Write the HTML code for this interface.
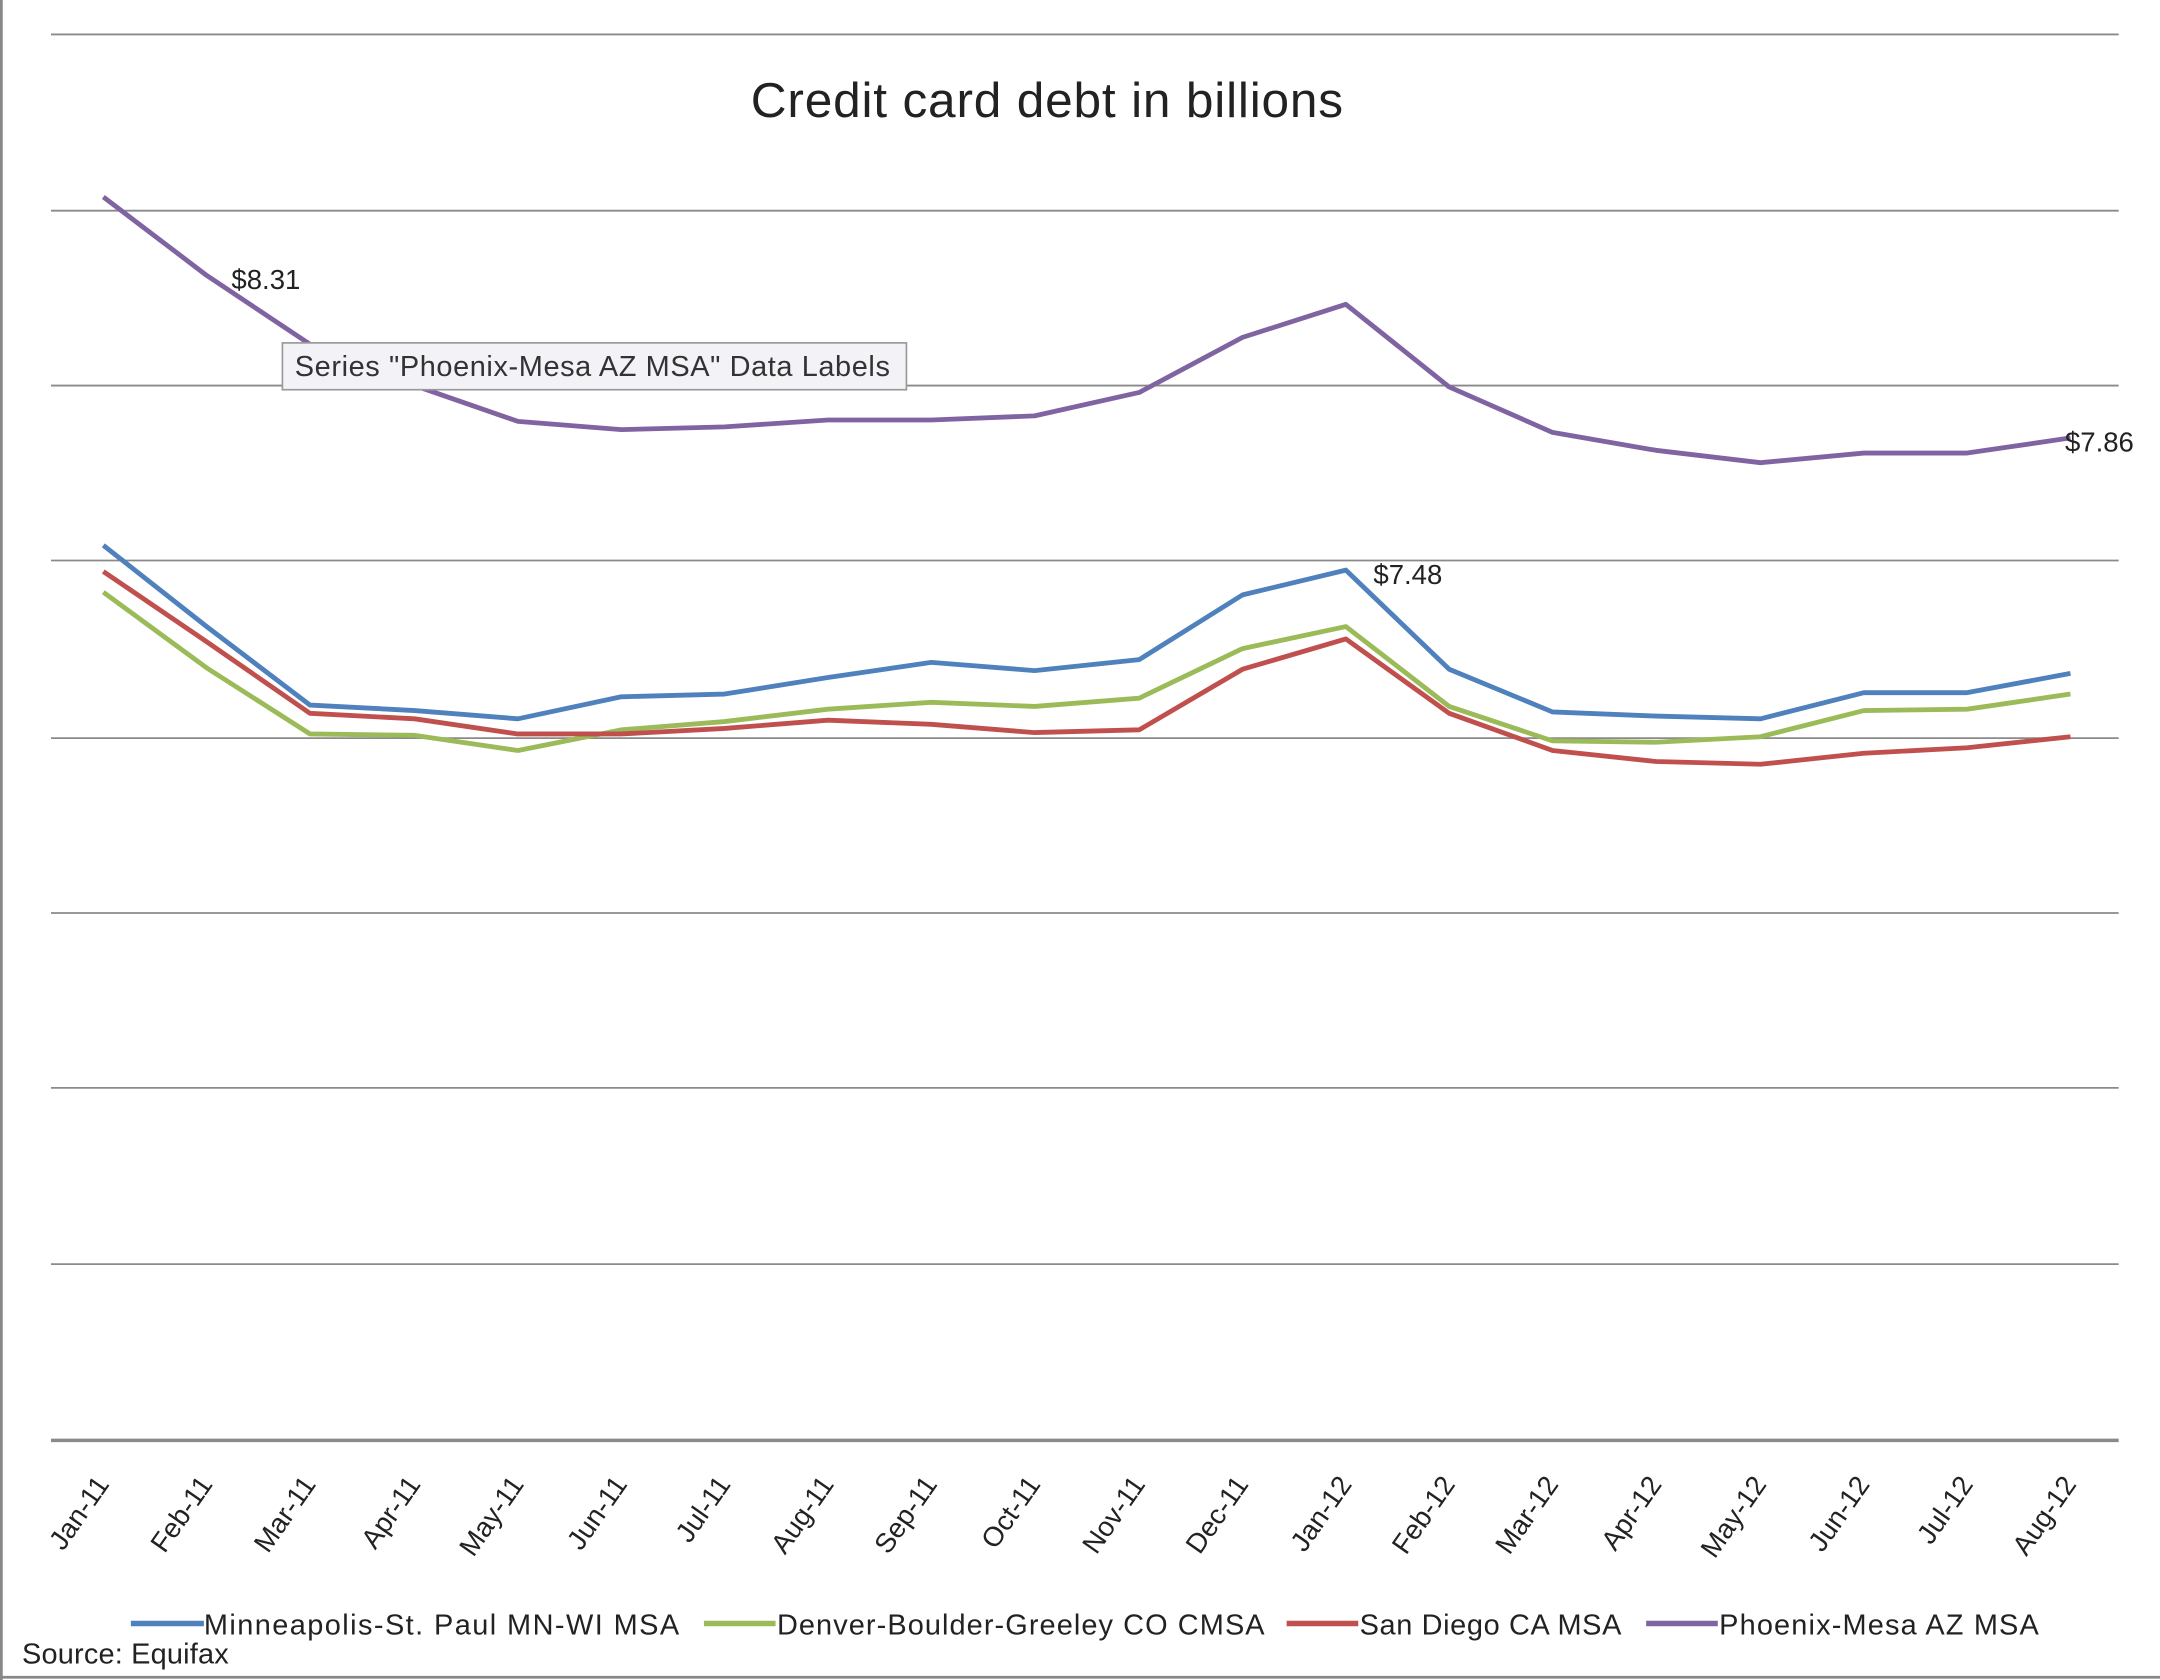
<!DOCTYPE html>
<html><head><meta charset="utf-8"><style>html,body{margin:0;padding:0;background:#fff}svg{display:block}</style></head>
<body>
<svg width="2160" height="1680" viewBox="0 0 1568 1220" preserveAspectRatio="none" xmlns="http://www.w3.org/2000/svg" font-family="Liberation Sans Narrow, Liberation Sans, sans-serif">
<rect width="1568" height="1220" fill="#fff"/>
<line x1="1" y1="0" x2="1" y2="1220" stroke="#888" stroke-width="2"/>
<line x1="0" y1="1218" x2="1568" y2="1218" stroke="#888" stroke-width="2"/>
<g stroke="#8a8a8a" stroke-width="1.3">
<line x1="37" y1="25" x2="1538" y2="25"/><line x1="37" y1="153" x2="1538" y2="153"/>
<line x1="37" y1="280" x2="1538" y2="280"/><line x1="37" y1="407" x2="1538" y2="407"/>
<line x1="37" y1="536" x2="1538" y2="536"/><line x1="37" y1="663" x2="1538" y2="663"/>
<line x1="37" y1="790" x2="1538" y2="790"/><line x1="37" y1="918" x2="1538" y2="918"/>
<line x1="37" y1="1046" x2="1538" y2="1046" stroke-width="2.5"/>
</g>
<text x="760" y="85" font-size="36" text-anchor="middle" fill="#222" textLength="430">Credit card debt in billions</text>
<g fill="none" stroke-width="3.5" stroke-linejoin="round">
<polyline stroke="#8064a2" points="75,143 150,200 225,250 301,280 376,306 451,312 526,310 601,305 676,305 751,302 827,285 902,245 977,221 1052,281 1127,314 1202,327 1278,336 1353,329 1428,329 1503,318"/>
<polyline stroke="#9bbb59" points="75,430 150,485 225,533 301,534 376,545 451,530 526,524 601,515 676,510 751,513 827,507 902,471 977,455 1052,513 1127,538 1202,539 1278,535 1353,516 1428,515 1503,504"/>
<polyline stroke="#c0504d" points="75,415 150,466 225,518 301,522 376,533 451,533 526,529 601,523 676,526 751,532 827,530 902,486 977,464 1052,518 1127,545 1202,553 1278,555 1353,547 1428,543 1503,535"/>
<polyline stroke="#4f81bd" points="75,396 150,455 225,512 301,516 376,522 451,506 526,504 601,492 676,481 751,487 827,479 902,432 977,414 1052,486 1127,517 1202,520 1278,522 1353,503 1428,503 1503,489"/>
</g>
<g font-size="20" fill="#222">
<text x="168" y="210">$8.31</text>
<text x="997" y="424">$7.48</text>
<text x="1499" y="328">$7.86</text>
</g>
<rect x="205" y="249" width="453" height="34" fill="#f3f3f7" stroke="#999" stroke-width="1.2"/>
<text x="214" y="273" font-size="21" fill="#333" textLength="432">Series "Phoenix-Mesa AZ MSA" Data Labels</text>
<g font-size="20" fill="#222" text-anchor="end">
<text transform="translate(80,1078) rotate(-55)">Jan-11</text>
<text transform="translate(155,1078) rotate(-55)">Feb-11</text>
<text transform="translate(230,1078) rotate(-55)">Mar-11</text>
<text transform="translate(306,1078) rotate(-55)">Apr-11</text>
<text transform="translate(381,1078) rotate(-55)">May-11</text>
<text transform="translate(456,1078) rotate(-55)">Jun-11</text>
<text transform="translate(531,1078) rotate(-55)">Jul-11</text>
<text transform="translate(606,1078) rotate(-55)">Aug-11</text>
<text transform="translate(681,1078) rotate(-55)">Sep-11</text>
<text transform="translate(756,1078) rotate(-55)">Oct-11</text>
<text transform="translate(832,1078) rotate(-55)">Nov-11</text>
<text transform="translate(907,1078) rotate(-55)">Dec-11</text>
<text transform="translate(982,1078) rotate(-55)">Jan-12</text>
<text transform="translate(1057,1078) rotate(-55)">Feb-12</text>
<text transform="translate(1132,1078) rotate(-55)">Mar-12</text>
<text transform="translate(1207,1078) rotate(-55)">Apr-12</text>
<text transform="translate(1283,1078) rotate(-55)">May-12</text>
<text transform="translate(1358,1078) rotate(-55)">Jun-12</text>
<text transform="translate(1433,1078) rotate(-55)">Jul-12</text>
<text transform="translate(1508,1078) rotate(-55)">Aug-12</text>
</g>
<g stroke-width="4">
<line x1="95" y1="1179" x2="148" y2="1179" stroke="#4f81bd"/>
<line x1="511" y1="1179" x2="563" y2="1179" stroke="#9bbb59"/>
<line x1="934" y1="1179" x2="986" y2="1179" stroke="#c0504d"/>
<line x1="1195" y1="1179" x2="1247" y2="1179" stroke="#8064a2"/>
</g>
<g font-size="21" fill="#222">
<text x="148" y="1187" textLength="345">Minneapolis-St. Paul MN-WI MSA</text>
<text x="564" y="1187" textLength="354">Denver-Boulder-Greeley CO CMSA</text>
<text x="987" y="1187" textLength="190">San Diego CA MSA</text>
<text x="1248" y="1187" textLength="232">Phoenix-Mesa AZ MSA</text>
<text x="16" y="1208" textLength="150">Source: Equifax</text>
</g>
</svg>
</body></html>
